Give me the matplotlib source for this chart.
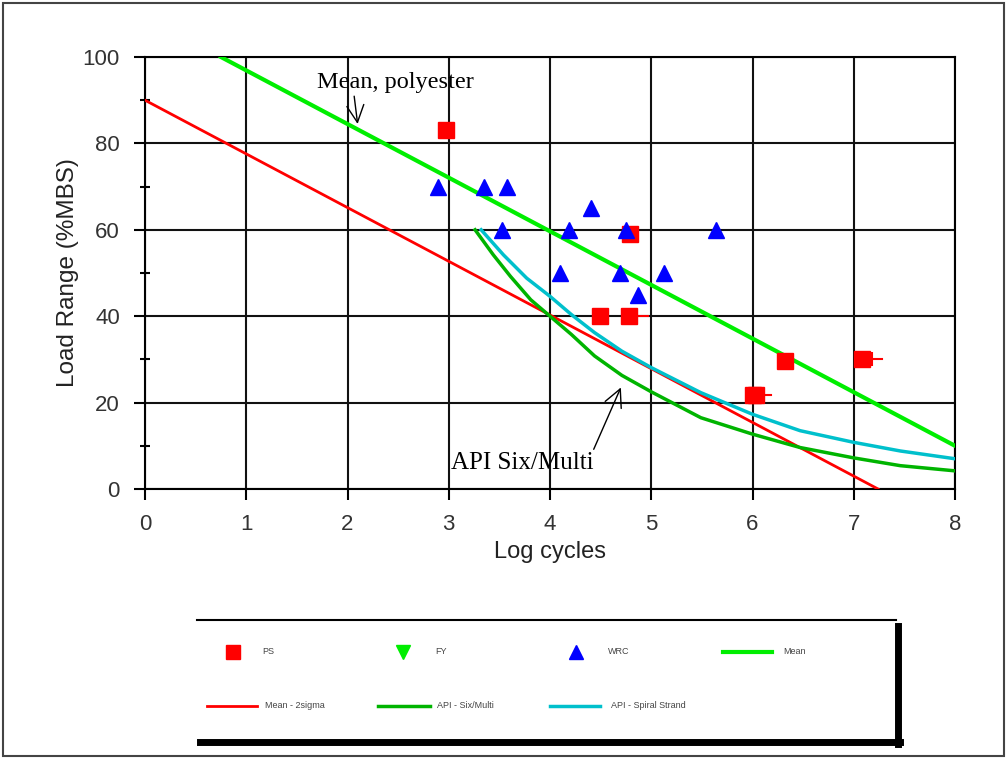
import matplotlib
matplotlib.use("Agg")
import matplotlib.pyplot as plt
from matplotlib.lines import Line2D
from matplotlib.patches import Rectangle

# ---- data ----
ps_x = [2.97, 4.79, 4.49, 4.78, 6.00, 6.03, 6.32, 7.08]
ps_y = [83, 59, 40, 40, 21.7, 21.7, 29.6, 30]
runout_x0 = [4.78, 6.03, 7.08]
runout_x1 = [4.97, 6.18, 7.28]
runout_y = [40, 21.7, 30]
runout_tick_x = [7.18]
runout_tick_y = [30]

fy_x = []
fy_y = []

wrc_x = [2.89, 3.35, 3.58, 3.53, 4.40, 4.19, 4.75, 5.64, 4.10, 4.69, 5.13, 4.87]
wrc_y = [70, 70, 70, 60, 65, 60, 60, 60, 50, 50, 50, 45]

mean_x = [0.75, 8.0]
mean_y = [100, 10]

m2s_x = [0.0, 7.24]
m2s_y = [90, 0]

six_x = [3.26, 3.44, 3.61, 3.81, 4.00, 4.21, 4.44, 4.71, 5.00, 5.49, 6.00, 6.47, 7.00, 7.46, 8.00]
six_y = [60.0, 54.2, 49.2, 43.8, 40.0, 35.8, 30.8, 26.3, 22.5, 16.5, 12.7, 9.6, 7.2, 5.4, 4.2]

spiral_x = [3.32, 3.54, 3.77, 4.00, 4.21, 4.44, 4.71, 5.00, 5.49, 6.00, 6.47, 7.00, 7.46, 8.00]
spiral_y = [60.0, 54.2, 48.8, 44.6, 40.4, 36.2, 31.9, 28.1, 22.3, 17.3, 13.5, 10.8, 8.8, 7.0]

x_ticks = [0, 1, 2, 3, 4, 5, 6, 7, 8]
y_ticks = [0, 20, 40, 60, 80, 100]
y_minor = [10, 30, 50, 70, 90]

legend_labels = ["PS", "FY", "WRC", "Mean", "Mean - 2sigma", "API - Six/Multi", "API - Spiral Strand"]

# ---- colours ----
C_RED = "#ff0000"
C_LIME = "#00ee00"
C_DKGREEN = "#00b400"
C_CYAN = "#00c0cc"
C_BLUE = "#0000ff"

plt.rcParams['font.family'] = ['Liberation Sans', 'DejaVu Sans']

fig = plt.figure(figsize=(10.07, 7.59), dpi=100)
ax = fig.add_axes([145/1007, 1-489/759, 810/1007, 432/759])

ax.set_xlim(0, 8)
ax.set_ylim(0, 100)
ax.set_xticks(x_ticks)
ax.set_yticks(y_ticks)
ax.set_yticks(y_minor, minor=True)
ax.grid(True, which='major', color='#111111', linewidth=1.5)
ax.set_axisbelow(True)
for s in ax.spines.values():
    s.set_linewidth(1.5)
ax.tick_params(axis='both', which='major', direction='out', length=8, width=1.5,
               labelsize=16, labelcolor='#333333', pad=10)
ax.tick_params(axis='y', which='minor', direction='inout', length=7, width=1.5)

ax.plot(m2s_x, m2s_y, color=C_RED, lw=2, zorder=3)
ax.plot(six_x, six_y, color=C_DKGREEN, lw=2.5, zorder=3)
ax.plot(spiral_x, spiral_y, color=C_CYAN, lw=2.5, zorder=3)
ax.plot(mean_x, mean_y, color=C_LIME, lw=3, zorder=3)

for x0, x1, yy in zip(runout_x0, runout_x1, runout_y):
    ax.plot([x0, x1], [yy, yy], color=C_RED, lw=1.5, zorder=4)
ax.plot(runout_tick_x, runout_tick_y, marker='|', color=C_RED, ms=10, mew=1.5, ls='none', zorder=4)

ax.plot(ps_x, ps_y, ls='none', marker='s', color=C_RED, ms=11, zorder=5)
ax.plot(wrc_x, wrc_y, ls='none', marker='^', color=C_BLUE, ms=11, zorder=5)
ax.plot(fy_x, fy_y, ls='none', marker='v', color=C_LIME, ms=11, zorder=5)

ax.set_xlabel("Log cycles", fontsize=17, color='#222222', labelpad=4)
ax.set_ylabel("Load Range (%MBS)", fontsize=17.5, color='#222222', labelpad=3)

serif = ['Liberation Serif', 'DejaVu Serif']
ax.annotate("Mean, polyester", xy=(2.10, 84.5), xytext=(1.70, 94.0),
            fontsize=17.5, family=serif, va='center', ha='left', zorder=6,
            arrowprops=dict(arrowstyle='->,head_length=0.7,head_width=0.35', color='black', lw=1.0,
                            shrinkA=0, shrinkB=0, relpos=(0.23, 0.25)))
ax.annotate("API Six/Multi", xy=(4.70, 23.5), xytext=(3.02, 6.0),
            fontsize=18, family=serif, va='center', ha='left', zorder=6,
            arrowprops=dict(arrowstyle='->,head_length=0.7,head_width=0.35', color='black', lw=1.0,
                            shrinkA=0, shrinkB=0, relpos=(0.98, 0.8)))

# ---- legend box with shadow ----
W, H = 1007, 759
def fx(px): return px / W
def fy(py): return 1 - py / H

fig.add_artist(Line2D([fx(197), fx(896)], [fy(620), fy(620)], color='black', lw=1.5))
fig.add_artist(Line2D([fx(898), fx(898)], [fy(626), fy(744)], color='black', lw=5))
fig.add_artist(Line2D([fx(200), fx(900)], [fy(742), fy(742)], color='black', lw=5))

leg_fs = 6.5
lc = '#444444'
row1 = fy(652)
row2 = fy(706)
fig.add_artist(Line2D([fx(233)], [row1], marker='s', color=C_RED, ms=10, ls='none'))
fig.text(fx(262), row1, legend_labels[0], fontsize=leg_fs, color=lc, va='center')
fig.add_artist(Line2D([fx(403)], [row1], marker='v', color=C_LIME, ms=10, ls='none'))
fig.text(fx(435), row1, legend_labels[1], fontsize=leg_fs, color=lc, va='center')
fig.add_artist(Line2D([fx(576)], [row1], marker='^', color=C_BLUE, ms=10, ls='none'))
fig.text(fx(608), row1, legend_labels[2], fontsize=leg_fs, color=lc, va='center')
fig.add_artist(Line2D([fx(723), fx(772)], [row1, row1], color=C_LIME, lw=3))
fig.text(fx(783), row1, legend_labels[3], fontsize=leg_fs, color=lc, va='center')
fig.add_artist(Line2D([fx(207), fx(257)], [row2, row2], color=C_RED, lw=2))
fig.text(fx(265), row2, legend_labels[4], fontsize=leg_fs, color=lc, va='center')
fig.add_artist(Line2D([fx(378), fx(430)], [row2, row2], color=C_DKGREEN, lw=2.5))
fig.text(fx(437), row2, legend_labels[5], fontsize=leg_fs, color=lc, va='center')
fig.add_artist(Line2D([fx(550), fx(600)], [row2, row2], color=C_CYAN, lw=2.5))
fig.text(fx(611), row2, legend_labels[6], fontsize=leg_fs, color=lc, va='center')

# outer border
fig.add_artist(Rectangle((fx(3), fy(756)), fx(1001), 753/H, fill=False, edgecolor='#444444', lw=1.5,
                         transform=fig.transFigure))

fig.savefig("out.png", dpi=100)
